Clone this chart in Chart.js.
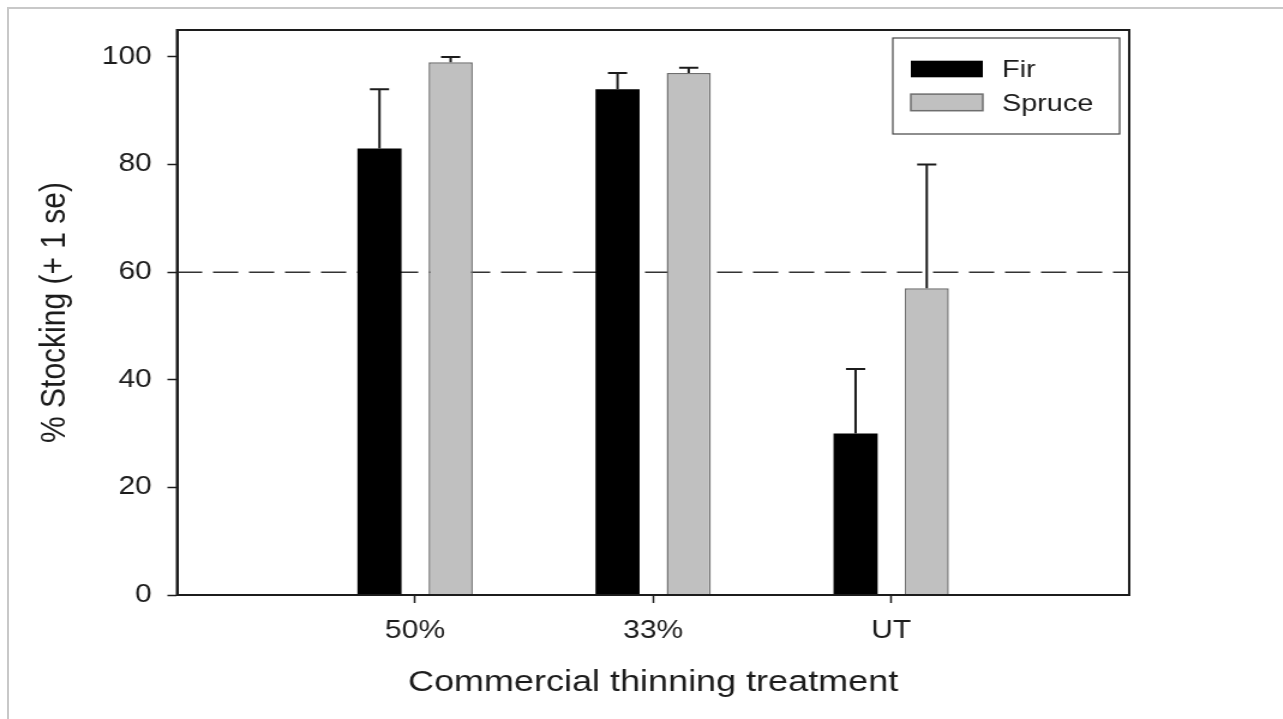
<!DOCTYPE html>
<html>
<head>
<meta charset="utf-8">
<title>% Stocking by commercial thinning treatment</title>
<script src="https://cdn.jsdelivr.net/npm/chart.js@4/dist/chart.umd.min.js"></script>
<style>
  html, body { margin: 0; padding: 0; background: #fff; overflow: hidden; }
  body { width: 1283px; height: 719px; position: relative; }
  .frame {
    position: absolute; left: 7px; top: 7px; right: -20px; bottom: -20px;
    border: 2px solid #c8c8c8;
  }
  /* the source figure is stretched sideways, so the chart is drawn narrow and scaled up */
  .stretch {
    position: absolute; left: 0; top: 0;
    width: 1069px; height: 719px;
    transform: scaleX(1.2); transform-origin: 0 0;
  }
</style>
</head>
<body>
<div class="frame"></div>
<div class="stretch"><canvas id="stockingChart"></canvas></div>
<script>
// Data
const categories = ['50%', '33%', 'UT'];
const firValues = [83, 94, 30];
const firSE = [11, 3, 12];
const spruceValues = [99, 97, 57];
const spruceSE = [1, 1, 23];
const yTicks = [0, 20, 40, 60, 80, 100];
const thresholdValue = 60;

const FONT = '"Liberation Sans", Arial, Helvetica, sans-serif';
const INK = '#1c1c1c';

// categories sit at 1, 2, 3 on a linear axis running 0..4
const catX = categories.map((c, i) => i + 1);
const toPoints = vals => vals.map((v, i) => ({ x: catX[i], y: v }));

// Error bars (+1 se only)
const errorBars = {
  id: 'errorBars',
  afterDatasetsDraw(chart) {
    const ctx = chart.ctx;
    const yScale = chart.scales.y;
    ctx.save();
    ctx.strokeStyle = INK;
    ctx.lineWidth = 2;
    chart.data.datasets.forEach((ds, di) => {
      if (!ds.se) return;
      const meta = chart.getDatasetMeta(di);
      meta.data.forEach((bar, i) => {
        const top = yScale.getPixelForValue(ds.data[i].y + ds.se[i]);
        ctx.beginPath();
        ctx.moveTo(bar.x, bar.y);
        ctx.lineTo(bar.x, top);
        ctx.moveTo(bar.x - 8, top);
        ctx.lineTo(bar.x + 8, top);
        ctx.stroke();
      });
    });
    ctx.restore();
  }
};

// Box round the plot and legend inside the top-right corner
const plotFrame = {
  id: 'plotFrame',
  afterDraw(chart) {
    const ctx = chart.ctx;
    const a = chart.chartArea;
    ctx.save();
    ctx.strokeStyle = INK;
    ctx.lineWidth = 2;
    ctx.strokeRect(a.left, a.top, a.right - a.left, a.bottom - a.top);

    const boxW = 189, boxH = 96;
    const bx = a.right - 8 - boxW;
    const by = a.top + 8;
    ctx.lineWidth = 1.2;
    ctx.strokeStyle = '#444';
    ctx.strokeRect(bx, by, boxW, boxH);

    ctx.font = '24px ' + FONT;
    ctx.textBaseline = 'alphabetic';
    ctx.textAlign = 'left';
    const bars = chart.data.datasets.filter(ds => ds.type !== 'line');
    bars.forEach((ds, i) => {
      const sy = by + 22.7 + i * 33.4;
      ctx.fillStyle = ds.backgroundColor;
      ctx.fillRect(bx + 15, sy, 60, 16.6);
      if (ds.borderWidth) {
        ctx.strokeStyle = ds.borderColor;
        ctx.lineWidth = ds.borderWidth;
        ctx.strokeRect(bx + 15, sy, 60, 16.6);
      }
      ctx.fillStyle = INK;
      ctx.fillText(ds.label, bx + 91, sy + 16.6);
    });
    ctx.restore();
  }
};

const ctx = document.getElementById('stockingChart').getContext('2d');
new Chart(ctx, {
  type: 'bar',
  data: {
    datasets: [
      {
        label: 'Fir',
        data: toPoints(firValues),
        se: firSE,
        backgroundColor: '#000000',
        borderWidth: 0,
        categoryPercentage: 0.598,
        barPercentage: 0.62,
        order: 0
      },
      {
        label: 'Spruce',
        data: toPoints(spruceValues),
        se: spruceSE,
        backgroundColor: '#c0c0c0',
        borderColor: '#6e6e6e',
        borderWidth: 1.5,
        categoryPercentage: 0.598,
        barPercentage: 0.62,
        order: 0
      },
      {
        type: 'line',
        label: 'threshold',
        data: [{ x: 0, y: thresholdValue }, { x: categories.length + 1, y: thresholdValue }],
        borderColor: '#333',
        borderWidth: 1.5,
        borderDash: [21, 9],
        pointRadius: 0,
        fill: false,
        order: 1
      }
    ]
  },
  options: {
    responsive: true,
    maintainAspectRatio: false,
    animation: false,
    devicePixelRatio: 1,
    layout: { padding: { top: 30, right: 128, left: 0, bottom: 0 } },
    plugins: {
      legend: { display: false },
      tooltip: { enabled: false }
    },
    scales: {
      x: {
        type: 'linear',
        min: 0,
        max: categories.length + 1,
        offset: false,
        afterBuildTicks: scale => { scale.ticks = catX.map(v => ({ value: v })); },
        afterFit: scale => { scale.height = 124; },
        grid: {
          display: true,
          offset: false,
          drawOnChartArea: false,
          drawTicks: true,
          tickLength: 8,
          tickColor: INK,
          tickWidth: 1.5
        },
        border: { display: true, color: INK, width: 2 },
        ticks: {
          padding: 13,
          color: INK,
          font: { family: FONT, size: 25 },
          maxRotation: 0,
          callback: v => categories[v - 1] || ''
        },
        title: {
          display: true,
          text: 'Commercial thinning treatment',
          color: INK,
          font: { family: FONT, size: 30 },
          padding: { top: 6, bottom: 18 }
        }
      },
      y: {
        min: 0,
        max: 105,
        afterBuildTicks: scale => { scale.ticks = yTicks.map(v => ({ value: v })); },
        afterFit: scale => { scale.width = 147.5; },
        grid: {
          display: true,
          drawOnChartArea: false,
          drawTicks: true,
          tickLength: 8,
          tickColor: INK,
          tickWidth: 1.5
        },
        border: { display: true, color: INK, width: 2 },
        ticks: {
          padding: 13,
          color: INK,
          font: { family: FONT, size: 25 }
        },
        title: {
          display: true,
          text: '% Stocking (+ 1 se)',
          color: INK,
          font: { family: FONT, size: 30 },
          padding: { top: 28, bottom: 8 }
        }
      }
    }
  },
  plugins: [errorBars, plotFrame]
});
</script>
</body>
</html>
